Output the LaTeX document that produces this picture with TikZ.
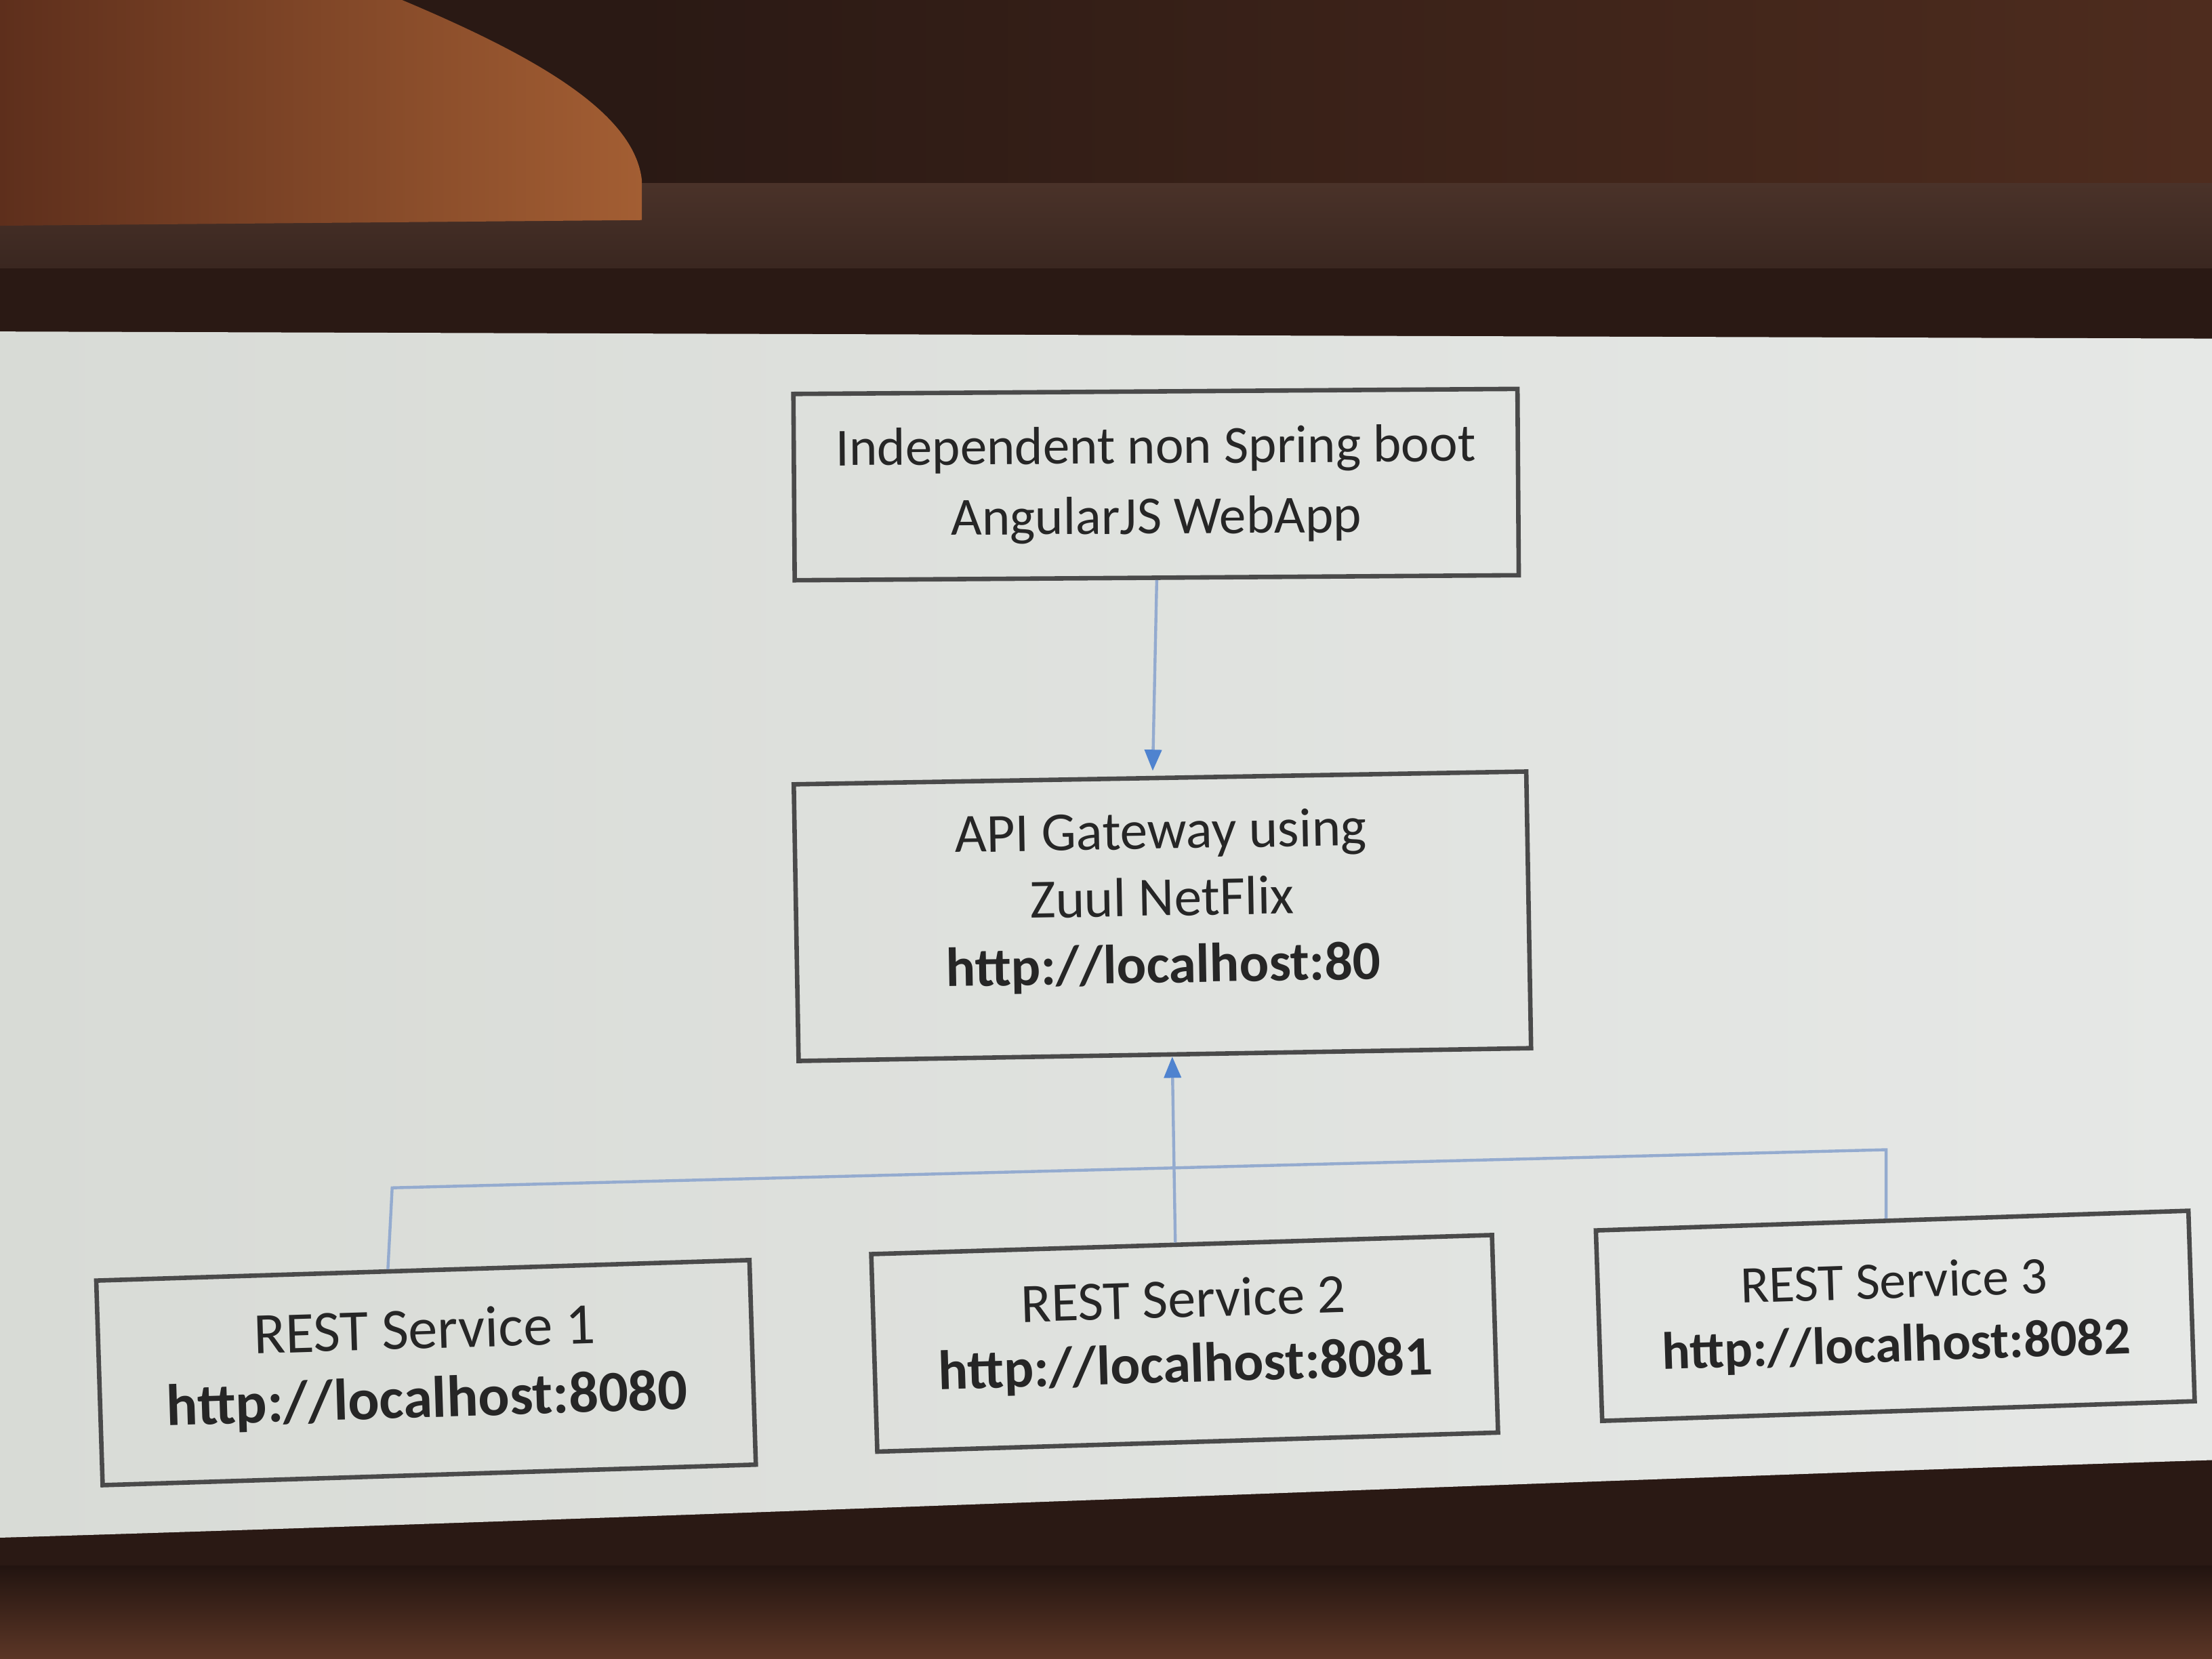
\documentclass[tikz,border=0pt]{standalone}
\usepackage{fontspec}
\setmainfont{Carlito}
\usetikzlibrary{arrows.meta,calc}
\definecolor{bgdark}{HTML}{2A1914}
\definecolor{bgwarm}{HTML}{4E2C1E}
\definecolor{bandA}{HTML}{4A3229}
\definecolor{bandB}{HTML}{3A2720}
\definecolor{fingerA}{HTML}{5E2F1C}
\definecolor{fingerB}{HTML}{A35E33}
\definecolor{screenL}{HTML}{D8DBD6}
\definecolor{screenR}{HTML}{E6E8E6}
\definecolor{boxline}{HTML}{4A4A4A}
\definecolor{txt}{HTML}{262626}
\definecolor{conn}{HTML}{94ABCF}
\definecolor{arrowblue}{HTML}{4F83CF}
\definecolor{floorA}{HTML}{221410}
\definecolor{floorB}{HTML}{5C3626}
\tikzset{
  box/.style={draw=boxline, line width=0.9pt, align=center, inner sep=0pt, text=txt},
  connline/.style={draw=conn, line width=0.6pt},
  arrowtip/.style={-{Triangle[length=0.15cm,width=0.12cm,color=arrowblue]}}
}
\begin{document}
\begin{tikzpicture}[x=0.01cm,y=-0.01cm]
\useasboundingbox (0,0) rectangle (1568,1176);
% photo surroundings
\fill[bgdark] (0,0) rectangle (1568,1176);
\shade[left color=bgdark, right color=bgwarm] (450,0) rectangle (1568,132);
\shade[top color=bandA, bottom color=bandB] (0,130) rectangle (1568,190);
\shade[left color=fingerA, right color=fingerB] (0,0) -- (285,0) .. controls (380,40) and (450,80) .. (455,128) -- (455,156) -- (0,160) -- cycle;
\shade[top color=floorA, bottom color=floorB] (0,1110) rectangle (1568,1176);
% screen
\shade[left color=screenL, right color=screenR] (0,235) -- (1568,240) -- (1568,1035) .. controls (1100,1050) and (500,1075) .. (0,1090) -- cycle;
% boxes
\node[box, rotate=0.4, minimum width=5.13cm, minimum height=1.32cm,
      font=\fontsize{10.8}{14.2}\selectfont] (web) at (819.5,343.5)
  {Independent non Spring boot\\AngularJS WebApp};
\node[box, rotate=1.0, minimum width=5.19cm, minimum height=1.96cm,
      font=\fontsize{11.1}{13.5}\selectfont] (gw) at (824,649.5)
  {API Gateway using\\Zuul NetFlix\\\textbf{http://localhost:80}\\[-0.2cm]\mbox{}};
\node[box, rotate=1.8, minimum width=4.63cm, minimum height=1.45cm,
      font=\fontsize{11.8}{13.9}\selectfont] (s1) at (302,973)
  {REST Service 1\\\textbf{http://localhost:8080}\\[-0.35cm]\mbox{}};
\node[box, rotate=1.76, minimum width=4.40cm, minimum height=1.40cm,
      font=\fontsize{11.2}{13.1}\selectfont] (s2) at (839.75,952.25)
  {REST Service 2\\\textbf{http://localhost:8081}\\[-0.28cm]\mbox{}};
\node[box, rotate=1.9, minimum width=4.20cm, minimum height=1.35cm,
      font=\fontsize{10.6}{12.8}\selectfont] (s3) at (1343.5,932.75)
  {REST Service 3\\\textbf{http://localhost:8082}};
% connectors
\coordinate (j1) at (278,842);
\coordinate (j3) at (1337,815);
\draw[connline] ($(s1.north west)!0.447!(s1.north east)$) -- (j1) -- (j3) -- ($(s3.north west)!0.49!(s3.north east)$);
\draw[connline, arrowtip] ($(s2.north west)!0.49!(s2.north east)$) -- ($(gw.south west)!0.51!(gw.south east)$);
\draw[connline, arrowtip, shorten >=1pt] ($(web.south west)!0.5!(web.south east)$) -- ($(gw.north west)!0.49!(gw.north east)$);
\end{tikzpicture}
\end{document}
